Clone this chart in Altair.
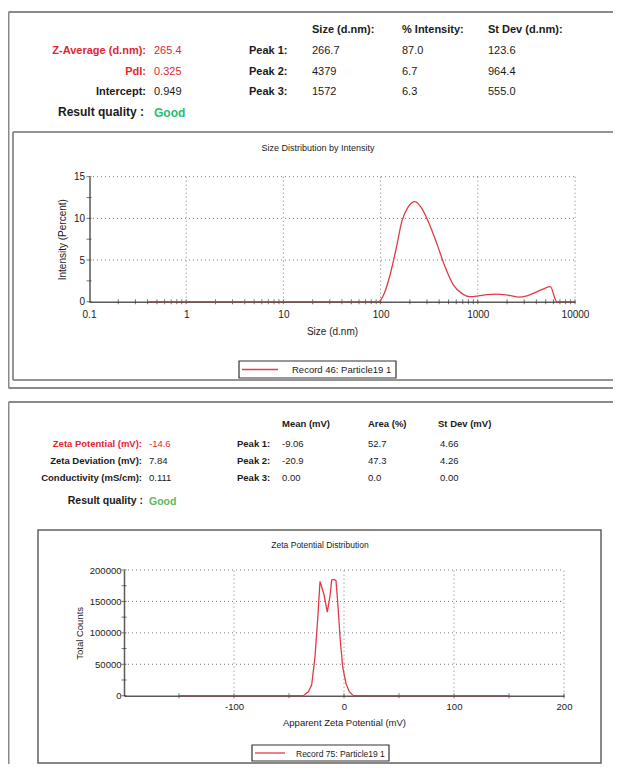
import altair as alt
import pandas as pd

# ---------------- data ----------------
size_record = "Record 46: Particle19 1"
size_nm = [0.4, 94.6, 110.8, 125, 146, 165, 193, 226, 265, 310, 378, 460, 562, 684,
           830, 1016, 1238, 1570, 1840, 2240, 2630, 3200, 3900, 4750, 5570, 6500, 10000]
size_intensity = [0, 0, 1.2, 3.2, 6.6, 9.6, 11.4, 12.0, 11.2, 9.6, 7.0, 4.2, 2.0, 1.0,
                  0.6, 0.7, 0.85, 0.9, 0.85, 0.7, 0.55, 0.7, 1.1, 1.55, 1.8, 0, 0]

zeta_record = "Record 75: Particle19 1"
zeta_mv = [-150, -37, -32.4, -29.4, -26.4, -24, -21.8, -18.2, -15.2, -12.7, -11.2,
           -9.1, -7.3, -5.8, -3.6, -1.2, 1.8, 4.8, 8.5, 150]
zeta_counts = [0, 0, 6300, 17000, 61000, 120000, 182000, 161000, 133000, 159000, 184000,
               185000, 183000, 151000, 93000, 46000, 19500, 6300, 0, 0]

size_x_labels = [0.1, 1, 10, 100, 1000, 10000]
size_x_ticks = [m * d for d in [0.1, 1, 10, 100, 1000] for m in range(2, 11)]
size_y_labels = [0, 5, 10, 15]
size_y_ticks = [0, 2.5, 5, 7.5, 10, 12.5, 15]
size_grid_x = [1, 10, 100, 1000, 10000]
size_grid_y = [5, 10, 15]

zeta_x_labels = [-100, 0, 100, 200]
zeta_x_ticks = [-150, -100, -50, 0, 50, 100, 150, 200]
zeta_y_labels = [0, 50000, 100000, 150000, 200000]
zeta_y_ticks = [0, 25000, 50000, 75000, 100000, 125000, 150000, 175000, 200000]
zeta_grid_x = [-100, 0, 100, 200]
zeta_grid_y = [50000, 100000, 150000, 200000]

size_header = ["Size (d.nm):", "% Intensity:", "St Dev (d.nm):"]
size_peak_labels = ["Peak 1:", "Peak 2:", "Peak 3:"]
size_peak_size = ["266.7", "4379", "1572"]
size_peak_intensity = ["87.0", "6.7", "6.3"]
size_peak_stdev = ["123.6", "964.4", "555.0"]
size_summary_labels = ["Z-Average (d.nm):", "PdI:", "Intercept:"]
size_summary_values = ["265.4", "0.325", "0.949"]

zeta_header = ["Mean (mV)", "Area (%)", "St Dev (mV)"]
zeta_peak_labels = ["Peak 1:", "Peak 2:", "Peak 3:"]
zeta_peak_mean = ["-9.06", "-20.9", "0.00"]
zeta_peak_area = ["52.7", "47.3", "0.0"]
zeta_peak_stdev = ["4.66", "4.26", "0.00"]
zeta_summary_labels = ["Zeta Potential (mV):", "Zeta Deviation (mV):", "Conductivity (mS/cm):"]
zeta_summary_values = ["-14.6", "7.84", "0.111"]

quality_label = "Result quality :"
quality_value = "Good"

# ---------------- layout / style ----------------
FONT = "Liberation Sans"
RED = "#e3262e"
LINE_RED = "#e23a48"
INK = "#1a1a1a"
W, H = 605, 756
M = 8  # page margin


def px(x):
    return x - M


def py(y):
    return y - M


one = pd.DataFrame({"k": [0]})


def txt(s, x, y, size=11, bold=False, color=INK, align="left"):
    return alt.Chart(one).mark_text(
        text=s, align=align, baseline="middle", font=FONT, fontSize=size,
        fontWeight="bold" if bold else "normal", color=color,
    ).encode(x=alt.value(px(x)), y=alt.value(py(y)))


def hline(x0, x1, y, color, width):
    return alt.Chart(one).mark_rule(color=color, strokeWidth=width).encode(
        x=alt.value(px(x0)), x2=alt.value(px(x1)), y=alt.value(py(y)))


def vline(x, y0, y1, color, width):
    return alt.Chart(one).mark_rule(color=color, strokeWidth=width).encode(
        x=alt.value(px(x)), y=alt.value(py(y0)), y2=alt.value(py(y1)))


def frame(x0, y0, x1, y1, color="#7a7a7a", width=1.5):
    return alt.Chart(one).mark_rect(
        fillOpacity=0, stroke=color, strokeWidth=width
    ).encode(x=alt.value(px(x0)), x2=alt.value(px(x1)),
             y=alt.value(py(y0)), y2=alt.value(py(y1)))


RIGHT = 700
layers = []
# top panel: outer + inner frames open to the right edge
OUT, INN = "#8a8a8a", "#707070"
layers += [hline(8.5, RIGHT, 12, OUT, 2), hline(8.5, RIGHT, 388, OUT, 2), vline(8.5, 12, 388, OUT, 2)]
layers += [hline(13, RIGHT, 132, INN, 1.5), hline(13, RIGHT, 380, INN, 1.5), vline(13, 132, 380, INN, 1.5)]
# bottom panel
layers += [hline(8.5, RIGHT, 402, OUT, 2), vline(8.5, 402, 800, OUT, 2)]
layers += [frame(38, 530, 601, 763, "#606060", 1.5)]

# ---- top stats table ----
top_rows = [51, 71.5, 92]
for s, x in zip(size_header, [312, 402, 488]):
    layers.append(txt(s, x, 30, 11, True))
for i, y in enumerate(top_rows):
    c = RED if i < 2 else INK
    layers.append(txt(size_summary_labels[i], 146, y, 11, True, c, "right"))
    layers.append(txt(size_summary_values[i], 154, y, 11, False, c))
    layers.append(txt(size_peak_labels[i], 249, y, 11, True))
    layers.append(txt(size_peak_size[i], 312, y, 11))
    layers.append(txt(size_peak_intensity[i], 402, y, 11))
    layers.append(txt(size_peak_stdev[i], 488, y, 11))
layers.append(txt(quality_label, 144, 112, 12, True, INK, "right"))
layers.append(txt(quality_value, 154, 112.5, 12, True, "#1fbf74"))

# ---- bottom stats table ----
bot_rows = [443.5, 460.5, 477.5]
for s, x in zip(zeta_header, [282, 368, 438]):
    layers.append(txt(s, x, 424, 9.5, True))
for i, y in enumerate(bot_rows):
    c = RED if i == 0 else INK
    layers.append(txt(zeta_summary_labels[i], 142, y, 9.5, True, c, "right"))
    layers.append(txt(zeta_summary_values[i], 149, y, 9.5, False, c))
    layers.append(txt(zeta_peak_labels[i], 237, y, 9.5, True))
    layers.append(txt(zeta_peak_mean[i], 282, y, 9.5))
    layers.append(txt(zeta_peak_area[i], 368, y, 9.5))
    layers.append(txt(zeta_peak_stdev[i], 440, y, 9.5))
layers.append(txt(quality_label, 143, 501, 10.5, True, INK, "right"))
layers.append(txt(quality_value, 149, 501.5, 10.5, True, "#5cb85c"))

# chart titles
layers.append(txt("Size Distribution by Intensity", 318, 148, 9, False, INK, "center"))
layers.append(txt("Zeta Potential Distribution", 320, 545, 8.5, False, INK, "center"))

GRID = dict(color="#7a7a7a", strokeDash=[1, 3], strokeWidth=1)
TICK = dict(color="#3a3a3a", thickness=1, size=5)


def axis(orient, offset, values, title, fs, lpad, tpad, label_expr=None, fmt=None):
    kw = dict(orient=orient, offset=offset, values=values, title=title, grid=False,
              ticks=False, tickSize=0, domainColor="#5a5a5a", domainWidth=1.5,
              labelFont=FONT, labelFontSize=fs, labelColor=INK, labelPadding=lpad,
              titleFont=FONT, titleFontSize=fs, titleFontWeight="normal",
              titleColor=INK, titlePadding=tpad, labelFlush=False, labelOverlap=False)
    if label_expr:
        kw["labelExpr"] = label_expr
    if fmt:
        kw["format"] = fmt
    return alt.Axis(**kw)


# ---------------- size distribution ----------------
def sx():
    return alt.Scale(type="log", domain=[0.1, 10000], range=[px(89), px(575)], nice=False)


def sy():
    return alt.Scale(domain=[0, 15], range=[py(301.7), py(176.7)], nice=False, zero=False)


size_df = pd.DataFrame({"size": size_nm, "intensity": size_intensity,
                        "record": [size_record] * len(size_nm)})

layers.append(alt.Chart(pd.DataFrame({"v": size_grid_x})).mark_rule(**GRID).encode(
    x=alt.X("v:Q", scale=sx(), axis=None),
    y=alt.Y("a:Q", scale=sy(), axis=None), y2="b:Q"
).transform_calculate(a="0", b="15"))
layers.append(alt.Chart(pd.DataFrame({"v": size_grid_y})).mark_rule(**GRID).encode(
    y=alt.Y("v:Q", scale=sy(), axis=None),
    x=alt.X("a:Q", scale=sx(), axis=None), x2="b:Q"
).transform_calculate(a="0.1", b="10000"))
layers.append(alt.Chart(pd.DataFrame({"v": size_x_ticks})).mark_tick(orient="vertical", **TICK).encode(
    x=alt.X("v:Q", scale=sx(), axis=None),
    y=alt.Y("a:Q", scale=sy(), axis=None)
).transform_calculate(a="0"))
layers.append(alt.Chart(pd.DataFrame({"v": size_y_ticks})).mark_tick(orient="horizontal", **TICK).encode(
    y=alt.Y("v:Q", scale=sy(), axis=None),
    x=alt.X("a:Q", scale=sx(), axis=None)
).transform_calculate(a="0.1"))
layers.append(alt.Chart(size_df).mark_line(interpolate="monotone", strokeWidth=1.3).encode(
    x=alt.X("size:Q", scale=sx(),
            axis=axis("bottom", py(301.7) - H, size_x_labels, "Size (d.nm)", 10, 8, 7,
                      fmt="~g")),
    y=alt.Y("intensity:Q", scale=sy(),
            axis=axis("left", -px(89.5), size_y_labels, "Intensity (Percent)", 10, 5, 6)),
    color=alt.Color("record:N", scale=alt.Scale(range=[LINE_RED]), legend=None),
))

# ---------------- zeta potential ----------------
def zx():
    return alt.Scale(domain=[-200, 200], range=[px(124), px(564)], nice=False, zero=False)


def zy():
    return alt.Scale(domain=[0, 200000], range=[py(695.7), py(570)], nice=False, zero=False)


zeta_df = pd.DataFrame({"mv": zeta_mv, "counts": zeta_counts,
                        "record": [zeta_record] * len(zeta_mv)})

layers.append(alt.Chart(pd.DataFrame({"v": zeta_grid_x})).mark_rule(**GRID).encode(
    x=alt.X("v:Q", scale=zx(), axis=None),
    y=alt.Y("a:Q", scale=zy(), axis=None), y2="b:Q"
).transform_calculate(a="0", b="200000"))
layers.append(alt.Chart(pd.DataFrame({"v": zeta_grid_y})).mark_rule(**GRID).encode(
    y=alt.Y("v:Q", scale=zy(), axis=None),
    x=alt.X("a:Q", scale=zx(), axis=None), x2="b:Q"
).transform_calculate(a="-200", b="200"))
layers.append(alt.Chart(pd.DataFrame({"v": zeta_x_ticks})).mark_tick(orient="vertical", **TICK).encode(
    x=alt.X("v:Q", scale=zx(), axis=None),
    y=alt.Y("a:Q", scale=zy(), axis=None)
).transform_calculate(a="0"))
layers.append(alt.Chart(pd.DataFrame({"v": zeta_y_ticks})).mark_tick(orient="horizontal", **TICK).encode(
    y=alt.Y("v:Q", scale=zy(), axis=None),
    x=alt.X("a:Q", scale=zx(), axis=None)
).transform_calculate(a="-200"))
layers.append(alt.Chart(zeta_df).mark_line(strokeWidth=1.3).encode(
    x=alt.X("mv:Q", scale=zx(),
            axis=axis("bottom", py(695.7) - H, zeta_x_labels, "Apparent Zeta Potential (mV)",
                      9.5, 6, 6, label_expr="'' + datum.value")),
    y=alt.Y("counts:Q", scale=zy(),
            axis=axis("left", -px(124), zeta_y_labels, "Total Counts", 9.5, 3, 5,
                      label_expr="'' + datum.value")),
    color=alt.Color("record:N", scale=alt.Scale(range=[LINE_RED]), legend=None),
))

# ---------------- legends (boxes with line sample and label) ----------------
for (x0, y0, x1, y1, lx0, lx1, tx, fs, rec) in [
        (239, 361, 396, 378, 242, 278, 292, 9.5, size_record),
        (252, 745, 389, 761, 255, 285, 296, 8.5, zeta_record)]:
    layers.append(frame(x0, y0, x1, y1, "#333333", 1.2))
    layers.append(alt.Chart(one).mark_rule(color=LINE_RED, strokeWidth=1.3).encode(
        x=alt.value(px(lx0)), x2=alt.value(px(lx1)), y=alt.value(py((y0 + y1) / 2))))
    layers.append(txt(rec, tx, (y0 + y1) / 2 + 0.5, fs))

chart = alt.layer(*layers).resolve_scale(
    x="independent", y="independent", color="independent"
).properties(
    width=W, height=H, autosize=alt.AutoSizeParams(type="none"), padding=0
).configure_view(strokeWidth=0)

chart.save("out.html", embed_options={"renderer": "svg", "actions": False})
